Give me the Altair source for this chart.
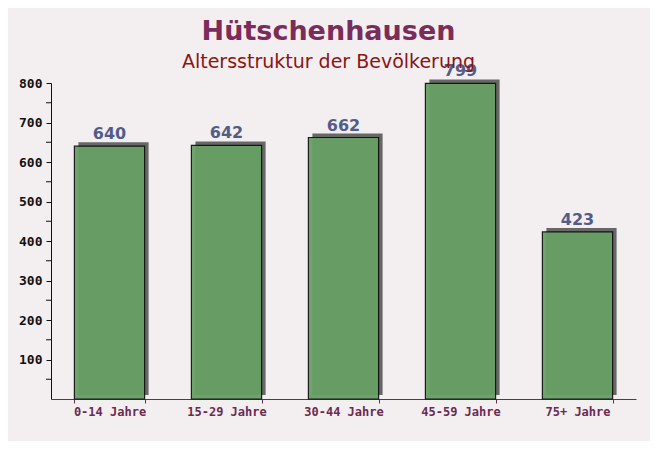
import altair as alt
import pandas as pd

categories = ["0-14 Jahre", "15-29 Jahre", "30-44 Jahre", "45-59 Jahre", "75+ Jahre"]
values = [640, 642, 662, 799, 423]
y_labels = [100, 200, 300, 400, 500, 600, 700, 800]
y_minor = [50, 150, 250, 350, 450, 550, 650, 750]

df = pd.DataFrame({"Altersgruppe": categories, "Einwohner": values})
minor_df = pd.DataFrame({"Einwohner": y_minor})

x_enc = alt.X("Altersgruppe:N", sort=categories, title=None,
              scale=alt.Scale(paddingInner=0.4, paddingOuter=0.2),
              axis=alt.Axis(labelAngle=0, labelFont="DejaVu Sans Mono", labelFontWeight="bold",
                            labelFontSize=12, labelColor="#6b2a50", labelPadding=3,
                            domainColor="#6b2a50", tickColor="#6b2a50", tickBand="extent",
                            tickSize=4, domainWidth=1))
y_enc = alt.Y("Einwohner:Q", title=None,
              scale=alt.Scale(domain=[0, 800], nice=False),
              axis=alt.Axis(values=y_labels, grid=False, labelOverlap=False, format="d",
                            labelFont="DejaVu Sans Mono", labelFontWeight="bold",
                            labelFontSize=13, labelColor="#111111", labelPadding=4,
                            domainColor="#111111", tickColor="#111111", tickSize=5))

base = alt.Chart(df)

shadow = base.mark_bar(color="#5f5f5f", xOffset=4, x2Offset=4, yOffset=-4, opacity=0.95).encode(
    x=x_enc, y=y_enc)
bars = base.mark_bar(color="#679f65", stroke="#111111", strokeWidth=1.2, opacity=0.95).encode(
    x=x_enc, y=y_enc)
labels = base.mark_text(dy=-4, baseline="bottom", font="DejaVu Sans", fontWeight="bold",
                        fontSize=16, color="#525c88").encode(
    x=alt.X("Altersgruppe:N", sort=categories), y="Einwohner:Q", text="Einwohner:Q")
minor = alt.Chart(minor_df).mark_rule(color="#111111", strokeWidth=1).encode(
    y="Einwohner:Q", x=alt.value(-5), x2=alt.value(0))

chart = alt.layer(shadow, bars, labels, minor).properties(
    width=585, height=316,
    background="#f3eff1",
    padding={"left": 43, "top": 75, "right": 14, "bottom": 42},
    autosize=alt.AutoSizeParams(type="none"),
    title=alt.TitleParams("Hütschenhausen", subtitle="Altersstruktur der Bevölkerung",
                          font="DejaVu Sans", fontWeight="bold", fontSize=27, color="#7a2c5b",
                          subtitleFont="DejaVu Sans", subtitleFontSize=19, subtitleColor="#8b1414",
                          subtitlePadding=7, anchor="middle", dx=-15, dy=10, offset=0)
).configure_view(stroke=None)

chart.save("out.html", embed_options={"renderer": "svg", "actions": False})
